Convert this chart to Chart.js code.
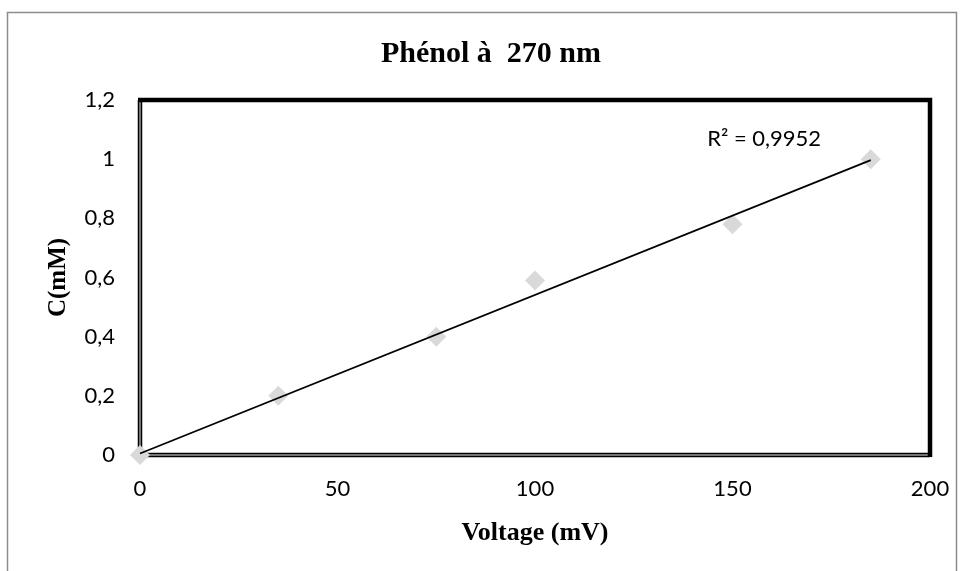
<!DOCTYPE html>
<html>
<head>
<meta charset="utf-8">
<script src="https://cdn.jsdelivr.net/npm/chart.js@4.4.0/dist/chart.umd.min.js"></script>
<style>
  html, body { margin: 0; padding: 0; background: #fff; }
  #wrap { width: 960px; height: 571px; }
</style>
</head>
<body>
<div id="wrap"><canvas id="chart" width="960" height="571"></canvas></div>
<script>
// Measured values (Voltage in mV, concentration in mM)
const voltage = [0, 35, 75, 100, 150, 185];
const concentration = [0, 0.2, 0.4, 0.59, 0.78, 1.0];

// Trend line end points
const trendX = [0, 185];
const trendY = [0.005, 0.997];

const xTicks = [0, 50, 100, 150, 200];
const yTicks = [0, 0.2, 0.4, 0.6, 0.8, 1, 1.2];
const chartTitle = 'Phénol à  270 nm';
const r2Label = 'R² = 0,9952';

const sansFont = 'Lato, "Open Sans", sans-serif';
const serifFont = '"Liberation Serif", "DejaVu Serif", serif';

// outer frame, title, plot frame and R² text
const framePlugin = {
    id: 'frame',
    beforeDraw(chart) {
        const ctx = chart.ctx;
        ctx.save();
        ctx.fillStyle = '#fff';
        ctx.fillRect(0, 0, chart.width, chart.height);
        ctx.strokeStyle = '#8c8c8c';
        ctx.lineWidth = 1.5;
        ctx.strokeRect(7.5, 12.5, 949, 570);

        ctx.fillStyle = '#000';
        ctx.font = 'bold 30px ' + serifFont;
        ctx.textAlign = 'center';
        ctx.textBaseline = 'alphabetic';
        ctx.fillText(chartTitle, 491, 62);
        ctx.restore();
    },
    beforeDatasetsDraw(chart) {
        const ctx = chart.ctx;
        const a = chart.chartArea;
        ctx.save();
        // left and bottom: double line
        ctx.strokeStyle = '#000';
        ctx.lineWidth = 4.5;
        ctx.beginPath();
        ctx.moveTo(a.left, a.top);
        ctx.lineTo(a.left, a.bottom);
        ctx.lineTo(a.right, a.bottom);
        ctx.stroke();
        ctx.strokeStyle = '#9a9a9a';
        ctx.lineWidth = 1.5;
        ctx.stroke();
        // top and right: thick black
        ctx.strokeStyle = '#000';
        ctx.lineWidth = 4.5;
        ctx.beginPath();
        ctx.moveTo(a.left - 2, a.top);
        ctx.lineTo(a.right, a.top);
        ctx.lineTo(a.right, a.bottom + 2);
        ctx.stroke();

        const xs = chart.scales.x, ys = chart.scales.y;
        ctx.fillStyle = '#000';
        ctx.font = '22px ' + sansFont;
        ctx.textAlign = 'center';
        ctx.textBaseline = 'alphabetic';
        ctx.fillText(r2Label, xs.getPixelForValue(158), ys.getPixelForValue(1.045));
        ctx.restore();
    }
};

const ctx = document.getElementById('chart').getContext('2d');
new Chart(ctx, {
    type: 'scatter',
    data: {
        datasets: [{
            label: 'Tendance',
            type: 'line',
            data: trendX.map((x, i) => ({ x: x, y: trendY[i] })),
            borderColor: '#000',
            borderWidth: 1.8,
            pointRadius: 0,
            fill: false,
            clip: false,
            order: 0
        }, {
            label: 'C(mM)',
            data: voltage.map((v, i) => ({ x: v, y: concentration[i] })),
            pointStyle: 'rectRot',
            pointRadius: 10,
            backgroundColor: '#d9d9d9',
            borderColor: '#d9d9d9',
            borderWidth: 0,
            clip: false,
            order: 1
        }]
    },
    options: {
        responsive: false,
        animation: false,
        layout: { padding: { left: 0, right: 30, top: 100, bottom: 0 } },
        plugins: {
            legend: { display: false },
            tooltip: { enabled: false },
            title: { display: false }
        },
        scales: {
            x: {
                type: 'linear',
                min: 0,
                max: 200,
                afterBuildTicks(scale) { scale.ticks = xTicks.map(v => ({ value: v })); },
                afterFit(scale) {
                    scale.height = 116;
                    scale.paddingLeft = 0;
                    scale.paddingRight = 0;
                },
                grid: { display: false, drawTicks: false },
                border: { display: false },
                ticks: {
                    color: '#000',
                    padding: 21,
                    font: { family: sansFont, size: 22 }
                },
                title: {
                    display: true,
                    text: 'Voltage (mV)',
                    color: '#000',
                    font: { family: serifFont, size: 26, weight: 'bold' },
                    padding: { top: 0, bottom: 22 }
                }
            },
            y: {
                type: 'linear',
                min: 0,
                max: 1.2,
                afterBuildTicks(scale) { scale.ticks = yTicks.map(v => ({ value: v })); },
                afterFit(scale) {
                    scale.width = 140;
                    scale.paddingTop = 0;
                    scale.paddingBottom = 0;
                },
                grid: { display: false, drawTicks: false },
                border: { display: false },
                ticks: {
                    color: '#000',
                    padding: 25,
                    font: { family: sansFont, size: 22 },
                    callback: v => String(v).replace('.', ',')
                },
                title: {
                    display: true,
                    text: 'C(mM)',
                    color: '#000',
                    font: { family: serifFont, size: 25, weight: 'bold' },
                    padding: { top: 44, bottom: 0 }
                }
            }
        }
    },
    plugins: [framePlugin]
});
</script>
</body>
</html>
